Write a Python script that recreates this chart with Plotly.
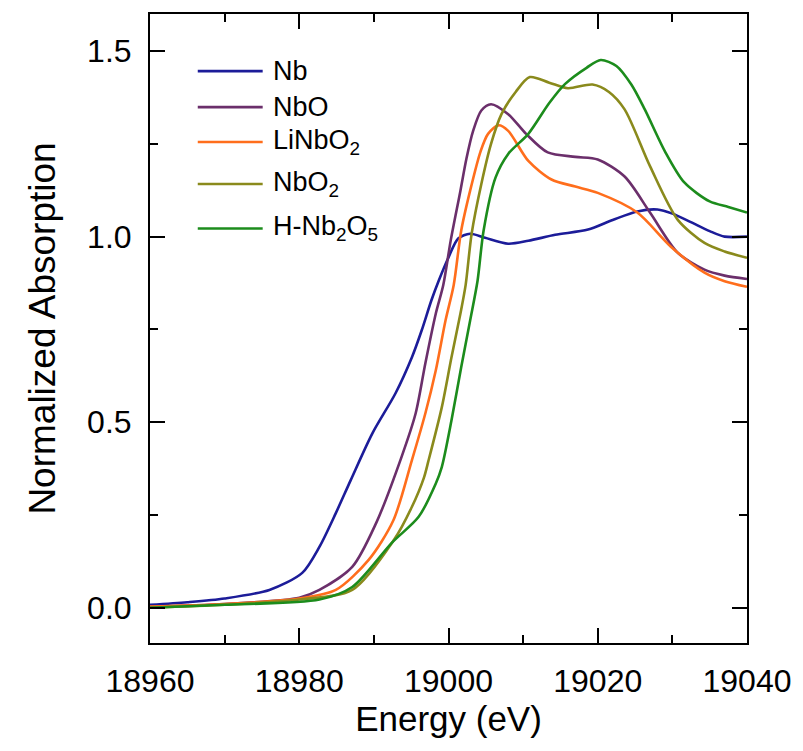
import plotly.graph_objects as go

# Nb K-edge XANES, normalized absorption vs photon energy (eV)
energy_nb = [18960, 18965, 18970, 18976, 18980.4, 18982.7, 18984.9, 18986.9,
             18989.8, 18992.9, 18995.1, 18996.4, 18997.7, 18998.7, 19000,
             19001.3, 19002.9, 19004.9, 19008, 19010.7, 19014.3, 19018.7, 19022,
             19025.3, 19028, 19030, 19032.4, 19035, 19037, 19040]
absorb_nb = [0.008, 0.015, 0.025, 0.048, 0.094, 0.164, 0.255, 0.344,
             0.47, 0.578, 0.675, 0.747, 0.828, 0.882, 0.944,
             0.995, 1.008, 0.997, 0.981, 0.989, 1.005, 1.019, 1.045,
             1.068, 1.073, 1.062, 1.04, 1.015, 1.0, 1.0]

energy_nbo = [18960, 18970, 18980, 18982.7, 18987.1, 18990.3, 18993.7, 18995.6,
              18996.9, 18998.3, 18999.3, 19000.3, 19001.6, 19002.4, 19003.3, 19004.4,
              19005.7, 19008, 19010.4, 19013.3, 19017, 19020, 19023.6, 19027, 19030.7,
              19034.3, 19037, 19040]
absorb_nbo = [0.003, 0.01, 0.027, 0.048, 0.11, 0.228, 0.406, 0.524,
              0.659, 0.793, 0.870, 0.99, 1.124, 1.21, 1.285, 1.34,
              1.357, 1.33, 1.277, 1.227, 1.215, 1.208, 1.162, 1.065, 0.957,
              0.911, 0.895, 0.886]

energy_linbo2 = [18960, 18970, 18980, 18984.9, 18989.3, 18992.6, 18995.1,
                 18996.9, 18998.3, 18999.6, 19000.7, 19001.7, 19002.9, 19004.3, 19005.3,
                 19006.7, 19008, 19010.7, 19013.8, 19017, 19020, 19025.3, 19029.8,
                 19034.3, 19037, 19040]
absorb_linbo2 = [0.003, 0.01, 0.025, 0.048, 0.129, 0.235, 0.398,
                 0.524, 0.64, 0.774, 0.87, 1.016, 1.124, 1.23, 1.277,
                 1.30, 1.285, 1.204, 1.154, 1.135, 1.118, 1.065, 0.973,
                 0.903, 0.88, 0.865]

energy_nbo2 = [18960, 18970, 18980, 18987.1, 18992.7, 18995.1, 18996.7, 18997.3,
               18999.1, 19000.4, 19001.6, 19002.3, 19003.1, 19004.4, 19005.7, 19007.1,
               19009, 19010.9, 19013.5, 19016, 19019.3, 19021.5, 19023.6, 19027,
               19030.7, 19034.3, 19037, 19040]
absorb_nbo2 = [0.0, 0.008, 0.022, 0.048, 0.183, 0.272, 0.35, 0.395,
               0.54, 0.675, 0.793, 0.87, 1.008, 1.142, 1.25, 1.33,
               1.39, 1.43, 1.415, 1.40, 1.41, 1.39, 1.343, 1.19,
               1.046, 0.983, 0.96, 0.943]

energy_hnb2o5 = [18960, 18970, 18982.7, 18987.1, 18992.4, 18996, 18998.3, 18999.1,
                 19000.4, 19001.7, 19002.9, 19003.9, 19004.7, 19006.3, 19008, 19010.7,
                 19013.5, 19015.6, 19018.5, 19020.4, 19022.5, 19024.5, 19026.3, 19029,
                 19031.6, 19035, 19037.5, 19040]
absorb_hnb2o5 = [0.0, 0.008, 0.022, 0.056, 0.175, 0.245, 0.335, 0.379,
                 0.505, 0.648, 0.774, 0.882, 1.016, 1.159, 1.223, 1.277,
                 1.36, 1.411, 1.455, 1.476, 1.46, 1.41, 1.343, 1.23,
                 1.146, 1.095, 1.08, 1.065]

names = ["Nb", "NbO", "LiNbO<sub>2</sub>", "NbO<sub>2</sub>", "H-Nb<sub>2</sub>O<sub>5</sub>"]
colors = ["#1c1c99", "#6b2f6b", "#ff6e1c", "#8a8a1c", "#1c8c1c"]
energies = [energy_nb, energy_nbo, energy_linbo2, energy_nbo2, energy_hnb2o5]
absorbs = [absorb_nb, absorb_nbo, absorb_linbo2, absorb_nbo2, absorb_hnb2o5]

FONT = "Liberation Sans, Arial, sans-serif"

fig = go.Figure()
for name, e, a, c in zip(names, energies, absorbs, colors):
    fig.add_trace(go.Scatter(
        x=e, y=a, mode="lines", name=name, showlegend=False,
        line=dict(color=c, width=2.6, shape="spline", smoothing=0.8),
    ))

# hand-placed key in the upper-left corner of the plot
key_y = [1.446, 1.349, 1.255, 1.142, 1.022]
key_x0, key_x1, key_text_x = 18966.4, 18975.1, 18976.2
for name, c, ky in zip(names, colors, key_y):
    fig.add_shape(type="line", xref="x", yref="y", x0=key_x0, x1=key_x1, y0=ky, y1=ky,
                  line=dict(color=c, width=2.6))
    fig.add_annotation(x=key_text_x, y=ky, xref="x", yref="y", text=name,
                       showarrow=False, xanchor="left", yanchor="middle",
                       font=dict(family=FONT, size=27, color="black"))

axis_common = dict(
    showline=True, linewidth=2, linecolor="black", mirror="ticks",
    ticks="inside", ticklen=15, tickwidth=2, tickcolor="black",
    showgrid=False, zeroline=False,
    tickfont=dict(family=FONT, size=32, color="black"),
)

fig.update_layout(
    width=803, height=751,
    margin=dict(l=150, r=54, t=13, b=108),
    paper_bgcolor="white", plot_bgcolor="white",
    font=dict(family=FONT, color="black"),
    xaxis=dict(
        range=[18960, 19040], tick0=18960, dtick=20, tickformat="d",
        minor=dict(dtick=10, ticks="inside", ticklen=8, tickwidth=2, tickcolor="black", showgrid=False),
        title=dict(text="Energy (eV)", font=dict(family=FONT, size=35), standoff=6),
        ticklabelstandoff=9,
        **axis_common,
    ),
    yaxis=dict(
        range=[-0.095, 1.6], tick0=0, dtick=0.5, tickformat=".1f",
        minor=dict(dtick=0.25, ticks="inside", ticklen=8, tickwidth=2, tickcolor="black", showgrid=False),
        title=dict(text="Normalized Absorption", font=dict(family=FONT, size=37), standoff=20),
        ticklabelstandoff=10,
        **axis_common,
    ),
)

fig.write_html("out.html")
